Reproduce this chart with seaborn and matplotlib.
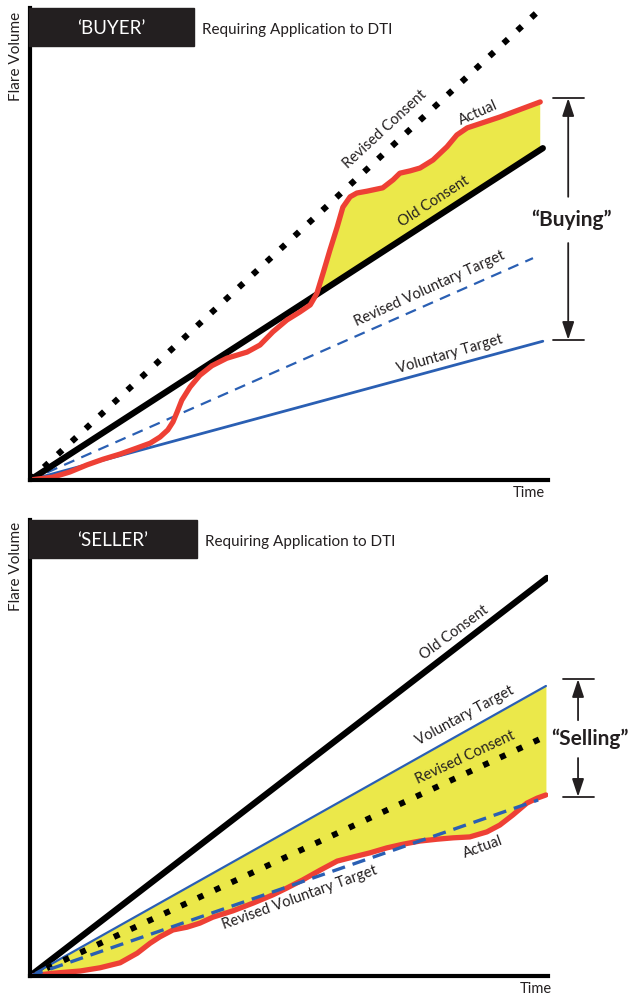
import matplotlib
matplotlib.use("Agg")
import matplotlib.pyplot as plt
from matplotlib.patches import Rectangle
import numpy as np
import seaborn as sns

# ---- data (time 0-100, flare volume 0-100) ----
line_x = [0, 98]

# BUYER panel
buyer_revised_consent = [0, 99.2]
buyer_old_consent_x = [0, 99.0]
buyer_old_consent = [0, 70.3]
buyer_rev_vol_x = [0, 97.1]
buyer_rev_vol_target = [0, 47.0]
buyer_vol_x = [0, 99.0]
buyer_vol_target = [0, 29.4]
buyer_actual_x = [0, 4.4, 7.7, 11.0, 14.1, 17.4, 20.7, 23.2, 25.1, 26.6, 27.6, 28.4,
                  29.3, 30.9, 32.8, 35.1, 38.0, 41.9, 44.4, 46.9, 49.6, 52.1, 54.1,
                  55.0, 55.4, 56.6, 57.9, 59.3, 60.4, 61.8, 63.1, 65.1, 68.1, 70.1,
                  71.4, 73.4, 75.3, 77.8, 80.5, 82.4, 84.4, 90.7, 98.5]
buyer_actual = [0, 0.6, 1.7, 3.2, 4.4, 5.5, 6.8, 7.8, 9.1, 10.6, 12.3, 14.4,
                16.9, 19.7, 22.2, 24.2, 25.8, 27.1, 28.6, 31.4, 33.9, 35.6, 37.1,
                38.8, 39.6, 43.9, 48.7, 53.6, 57.8, 60.0, 60.8, 61.2, 61.9, 63.6,
                65.0, 65.5, 66.1, 67.8, 70.6, 73.1, 74.6, 76.9, 80.1]

# SELLER panel
seller_old_consent_x = [0, 99.8]
seller_old_consent = [0, 87.3]
seller_vol_x = [0, 99.6]
seller_vol_target = [0, 63.6]
seller_revised_consent_x = [0, 98.5]
seller_revised_consent = [0, 52.0]
seller_rev_vol_x = [0, 98.1]
seller_rev_vol_target = [0, 38.6]
seller_actual_x = [0, 4.4, 9.7, 13.5, 17.4, 20.7, 23.2, 25.1, 27.6, 30.3, 32.8, 35.3,
                   39.2, 43.1, 46.9, 49.6, 52.7, 56.0, 59.3, 62.4, 65.6, 68.9, 72.0,
                   75.3, 78.6, 81.7, 84.9, 88.2, 90.7, 93.2, 95.9, 97.9, 99.6]
seller_actual = [0, 0.6, 1.1, 1.8, 2.9, 5.0, 7.2, 8.6, 10.1, 10.7, 11.6, 12.9,
                 14.3, 16.0, 17.8, 19.3, 21.1, 23.2, 25.2, 26.1, 27.0, 28.1, 28.9,
                 29.6, 30.0, 30.3, 30.5, 31.6, 33.1, 35.3, 37.9, 39.0, 39.7]

RED = "#ee4035"
YELLOW = "#ebe84a"
BLUE = "#2a5fb3"
INK = "#231f20"

sns.set_theme(style="white")
plt.rcParams["font.family"] = ["Lato", "DejaVu Sans"]

W, H = 633, 996
fig = plt.figure(figsize=(W / 100, H / 100), dpi=100)


def px_axes(left, top, right, bottom):
    return fig.add_axes([left / W, (H - bottom) / H, (right - left) / W, (bottom - top) / H])


def style_axes(ax):
    ax.set_xlim(0, 100)
    ax.set_ylim(0, 100)
    ax.set_xticks([])
    ax.set_yticks([])
    ax.set_xlabel("")
    ax.set_ylabel("")
    for s in ["top", "right"]:
        ax.spines[s].set_visible(False)
    for s in ["left", "bottom"]:
        ax.spines[s].set_color("black")
        ax.spines[s].set_linewidth(3)
        ax.spines[s].set_capstyle("projecting")
    ax.patch.set_alpha(0)


def line(ax, x, y, **kw):
    sns.lineplot(x=x, y=y, ax=ax, estimator=None, sort=False, legend=False, **kw)


def header(top, width, title):
    fig.add_artist(Rectangle((29 / W, (H - top - 38) / H), width / W, 38 / H,
                             transform=fig.transFigure, color=INK, zorder=5))
    fig.text((29 + width / 2) / W, (H - top - 20) / H, title, color="white",
             fontsize=13.5, ha="center", va="center", zorder=6)
    fig.text((29 + width + 8) / W, (H - top - 22) / H, "Requiring Application to DTI",
             color=INK, fontsize=11, ha="left", va="center")


def label(ax, x, y, text, rot, size=10.5):
    ax.text(x, y, text, rotation=rot, rotation_mode="anchor", ha="center", va="center",
            fontsize=size, color=INK, zorder=10)


def bracket(ax, x, y_top, y_bot, gap_top, gap_bot, text, tx):
    ax.plot([x - 3, x + 3], [y_top, y_top], color=INK, lw=1.3, clip_on=False)
    ax.plot([x - 3, x + 3], [y_bot, y_bot], color=INK, lw=1.3, clip_on=False)
    arrow = dict(arrowstyle="-|>,head_length=0.9,head_width=0.3", color=INK, lw=1.3,
                 shrinkA=0, shrinkB=0)
    ax.annotate("", xy=(x, y_top), xytext=(x, gap_top), arrowprops=arrow, annotation_clip=False)
    ax.annotate("", xy=(x, y_bot), xytext=(x, gap_bot), arrowprops=arrow, annotation_clip=False)
    ax.text(tx, (gap_top + gap_bot) / 2, text, ha="center", va="center", fontsize=15,
            fontweight="bold", color=INK, clip_on=False)


# ---------------- BUYER ----------------
ax1 = px_axes(30, 8, 548, 480)
style_axes(ax1)

bx = np.array(buyer_actual_x)
by = np.array(buyer_actual)
old_at = np.interp(bx, buyer_old_consent_x, buyer_old_consent)
ax1.fill_between(bx, old_at, by, where=by >= old_at, interpolate=True,
                 color=YELLOW, lw=0, zorder=1)

line(ax1, buyer_vol_x, buyer_vol_target, color=BLUE, linewidth=2.0)
line(ax1, buyer_rev_vol_x, buyer_rev_vol_target, color=BLUE, linewidth=1.6, dashes=(5, 3.4))
line(ax1, buyer_old_consent_x, buyer_old_consent, color="black", linewidth=4.5)
line(ax1, line_x, buyer_revised_consent, color="black", linewidth=4.4, dashes=(1, 2.1))
line(ax1, buyer_actual_x, buyer_actual, color=RED, linewidth=3.8,
     solid_capstyle="round", solid_joinstyle="round")

label(ax1, 68.5, 74.2, "Revised Consent", 42.8)
label(ax1, 86.5, 77.8, "Actual", 24)
label(ax1, 78.0, 58.9, "Old Consent", 33)
label(ax1, 77.2, 40.5, "Revised Voluntary Target", 24.5)
label(ax1, 81.1, 26.7, "Voluntary Target", 16)

bracket(ax1, 103.9, 80.9, 29.7, 60.0, 50.2, "\u201cBuying\u201d", 104.5)

header(8, 165, "\u2018BUYER\u2019")
fig.text(16 / W, (H - 56) / H, "Flare Volume", rotation=90, fontsize=11,
         color=INK, ha="center", va="center")
fig.text(545 / W, (H - 493) / H, "Time", fontsize=10.5, color=INK, ha="right", va="center")

# ---------------- SELLER ----------------
ax2 = px_axes(30, 520, 548, 976)
style_axes(ax2)

sx = np.array(seller_actual_x)
sy = np.array(seller_actual)
vol_at = np.interp(sx, seller_vol_x, seller_vol_target)
ax2.fill_between(sx, sy, vol_at, color=YELLOW, lw=0, zorder=1)

line(ax2, seller_old_consent_x, seller_old_consent, color="black", linewidth=4.5)
line(ax2, seller_vol_x, seller_vol_target, color=BLUE, linewidth=1.6)
line(ax2, seller_revised_consent_x, seller_revised_consent, color="black", linewidth=4.3,
     dashes=(1, 2.1))
line(ax2, seller_actual_x, seller_actual, color=RED, linewidth=3.8,
     solid_capstyle="round", solid_joinstyle="round")
line(ax2, seller_rev_vol_x, seller_rev_vol_target, color=BLUE, linewidth=2.4, dashes=(4, 2.4))

label(ax2, 81.9, 75.4, "Old Consent", 36.5)
label(ax2, 84.0, 57.0, "Voluntary Target", 28.5)
label(ax2, 84.0, 47.8, "Revised Consent", 25)
label(ax2, 52.1, 17.1, "Revised Voluntary Target", 19.8)
label(ax2, 87.5, 28.3, "Actual", 20)

bracket(ax2, 105.8, 65.1, 39.3, 56.1, 47.8, "\u201cSelling\u201d", 108.1)

header(520, 168, "\u2018SELLER\u2019")
fig.text(16 / W, (H - 566) / H, "Flare Volume", rotation=90, fontsize=11,
         color=INK, ha="center", va="center")
fig.text(552 / W, (H - 989) / H, "Time", fontsize=10.5, color=INK, ha="right", va="center")

fig.savefig("out.png", dpi=100)
plt.close(fig)
